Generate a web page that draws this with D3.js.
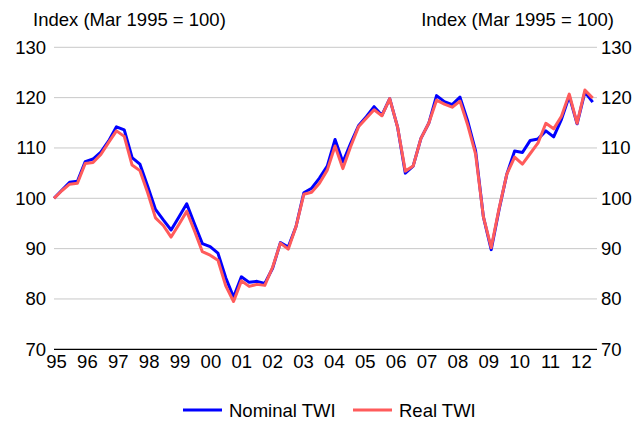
<!DOCTYPE html>
<html>
<head>
<meta charset="utf-8">
<script src="https://cdn.jsdelivr.net/npm/d3@7"></script>
<style>
  body { margin: 0; background: #fff; }
  svg text { font-family: "Liberation Sans", Arial, sans-serif; fill: #000; }
</style>
</head>
<body>
<svg id="chart" width="644" height="423"></svg>
<script>
// Quarterly trade-weighted index, Mar 1995 to Jun 2012 (Mar 1995 = 100)
const yearLabels = ["95","96","97","98","99","00","01","02","03","04","05","06","07","08","09","10","11","12"];
const yTicks = [70, 80, 90, 100, 110, 120, 130];
const seriesNames = ["Nominal TWI", "Real TWI"];
const seriesColors = ["#0000ff", "#ff5b5b"];
const axisTitle = "Index (Mar 1995 = 100)";

const nominalTWI = [
  100.0, 101.6, 103.2, 103.4, 107.3, 107.8, 109.2, 111.4, 114.2, 113.6,
  108.1, 106.8, 102.4, 97.8, 95.7, 93.7, 96.3, 98.9, 94.9, 91.0,
  90.4, 89.1, 84.2, 80.4, 84.4, 83.3, 83.5, 83.1, 86.1, 91.2,
  90.3, 94.4, 101.1, 102.0, 104.0, 106.4, 111.7, 107.2, 110.9, 114.4,
  116.2, 118.2, 116.5, 119.8, 114.2, 105.0, 106.4, 111.9, 114.9, 120.4,
  119.2, 118.6, 120.1, 115.3, 109.4, 96.3, 89.8, 97.7, 104.8, 109.4,
  109.1, 111.5, 111.8, 113.4, 112.2, 115.7, 120.3, 114.8, 121.1, 119.1
];
const realTWI = [
  100.0, 101.5, 102.8, 103.0, 106.9, 107.1, 108.7, 111.1, 113.4, 112.3,
  106.6, 105.5, 101.1, 96.1, 94.6, 92.3, 94.8, 97.4, 93.5, 89.4,
  88.7, 87.7, 82.6, 79.5, 83.6, 82.5, 82.9, 82.7, 86.3, 91.1,
  89.9, 94.4, 100.8, 101.2, 103.0, 105.6, 110.4, 105.9, 110.3, 114.2,
  115.9, 117.6, 116.4, 119.8, 114.2, 105.4, 106.4, 111.9, 114.9, 119.5,
  118.7, 118.1, 119.3, 114.5, 108.8, 96.3, 90.2, 97.9, 104.8, 108.2,
  106.8, 108.9, 111.0, 114.9, 113.8, 116.3, 120.7, 114.9, 121.5, 119.9
];

const svg = d3.select("#chart");
const plot = { left: 54, right: 597, top: 47.3, bottom: 349.3 };
const lastPointX = 592.7;

const x = d3.scaleLinear()
  .domain([0, nominalTWI.length - 1])
  .range([plot.left, lastPointX]);
const y = d3.scaleLinear()
  .domain([d3.min(yTicks), d3.max(yTicks)])
  .range([plot.bottom, plot.top]);

// Year labels sit slightly inside the first/last March quarters
const yearX = d3.scaleLinear()
  .domain([0, yearLabels.length - 1])
  .range([x(0) + 2, x(68) - 4]);

// Horizontal gridlines
svg.append("g")
  .selectAll("line")
  .data(yTicks.filter(t => t !== d3.min(yTicks)))
  .join("line")
  .attr("x1", plot.left).attr("x2", plot.right)
  .attr("y1", d => y(d)).attr("y2", d => y(d))
  .attr("stroke", "#c8c8c8").attr("stroke-width", 1);

// Left and right value axes
const leftAxis = svg.append("g")
  .attr("transform", `translate(${plot.left},0)`)
  .call(d3.axisLeft(y).tickValues(yTicks).tickSize(0).tickPadding(8));
const rightAxis = svg.append("g")
  .attr("transform", `translate(${plot.right},0)`)
  .call(d3.axisRight(y).tickValues(yTicks).tickSize(0).tickPadding(4));
[leftAxis, rightAxis].forEach(g => {
  g.select(".domain").remove();
  g.selectAll("text").attr("font-size", 18.5).attr("font-family", null);
});

// Year axis along the bottom
const bottomAxis = svg.append("g")
  .attr("transform", `translate(0,${plot.bottom})`)
  .call(d3.axisBottom(yearX).tickValues(d3.range(yearLabels.length))
    .tickFormat(i => yearLabels[i]).tickSize(0).tickPadding(6));
bottomAxis.select(".domain").remove();
bottomAxis.selectAll("text").attr("font-size", 18.5).attr("font-family", null);
svg.append("line")
  .attr("x1", plot.left).attr("x2", plot.right)
  .attr("y1", y(d3.min(yTicks))).attr("y2", y(d3.min(yTicks)))
  .attr("stroke", "#000").attr("stroke-width", 1.2);

// Axis titles
svg.append("text").attr("x", 33).attr("y", 26)
  .attr("font-size", 18.5).text(axisTitle);
svg.append("text").attr("x", 614).attr("y", 26)
  .attr("font-size", 18.5).attr("text-anchor", "end").text(axisTitle);

// Series lines
const line = d3.line().x((d, i) => x(i)).y(d => y(d));
[nominalTWI, realTWI].forEach((series, s) => {
  svg.append("path")
    .datum(series)
    .attr("d", line)
    .attr("fill", "none")
    .attr("stroke", seriesColors[s])
    .attr("stroke-width", 3)
    .attr("stroke-linejoin", "round");
});

// Legend
const legendItems = [
  { name: seriesNames[0], color: seriesColors[0], x: 183 },
  { name: seriesNames[1], color: seriesColors[1], x: 353 }
];
const legend = svg.append("g");
legendItems.forEach(item => {
  legend.append("line")
    .attr("x1", item.x).attr("x2", item.x + 39)
    .attr("y1", 410).attr("y2", 410)
    .attr("stroke", item.color).attr("stroke-width", 3);
  legend.append("text")
    .attr("x", item.x + 46).attr("y", 417)
    .attr("font-size", 18.5).text(item.name);
});
</script>
</body>
</html>
